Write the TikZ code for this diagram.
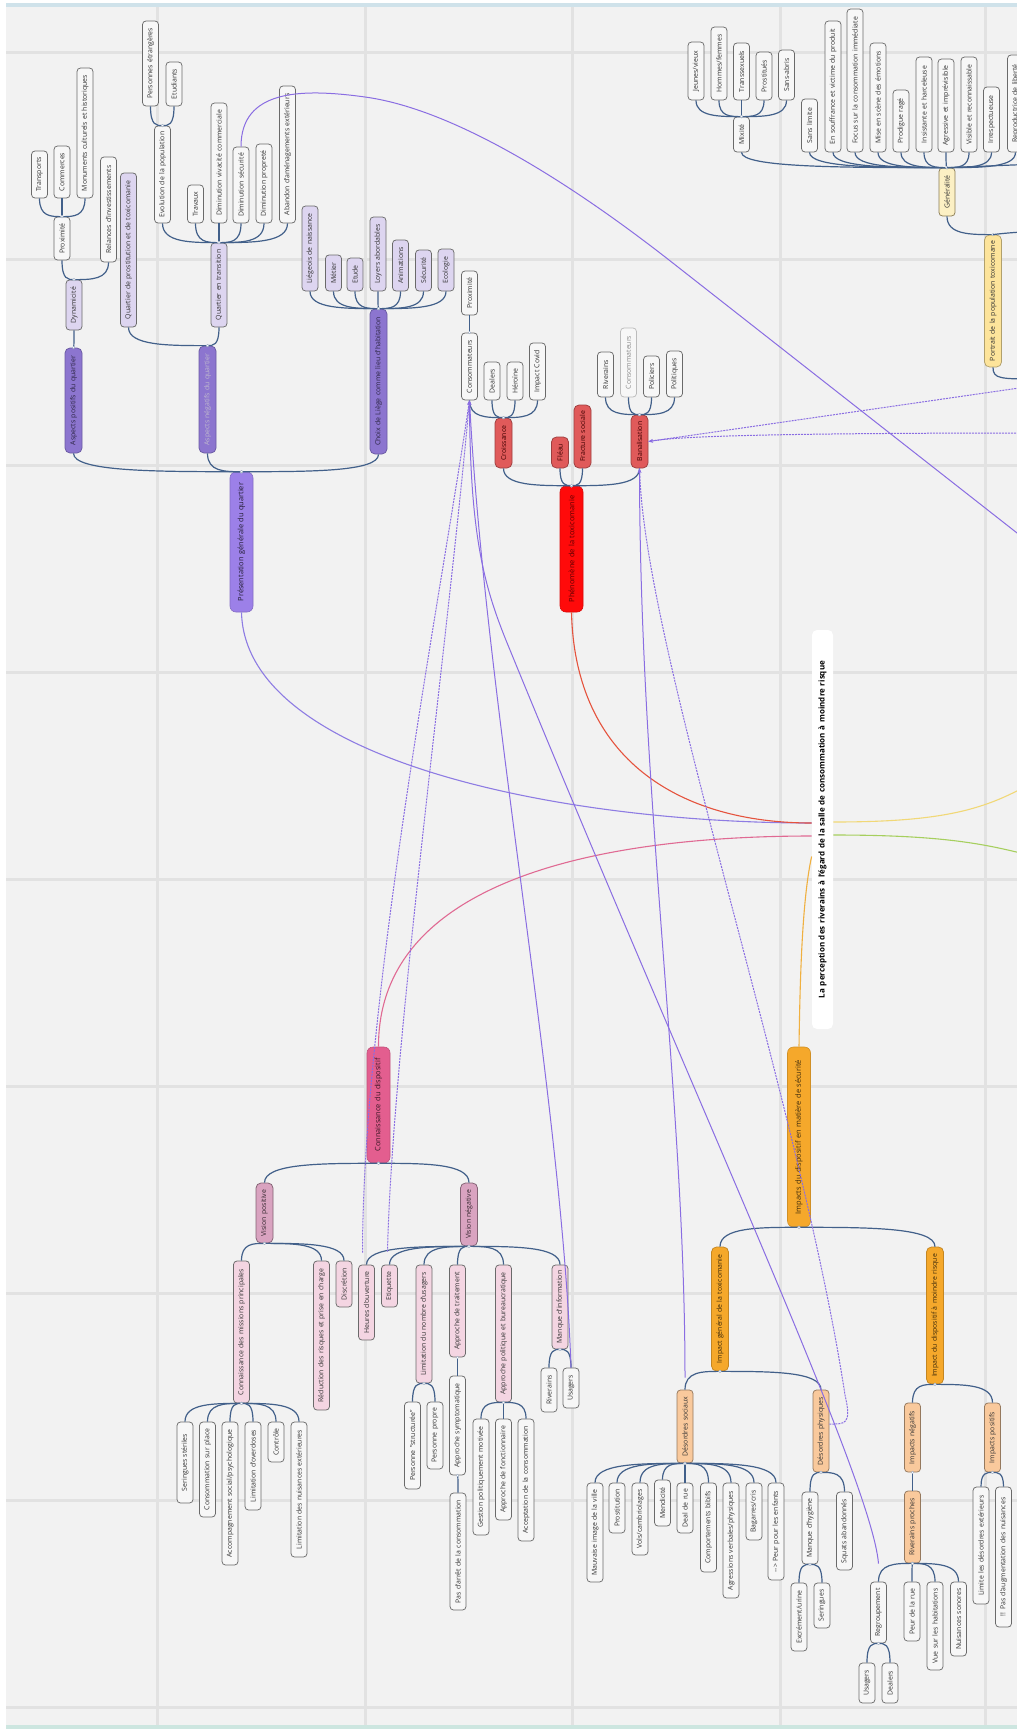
\documentclass[tikz,border=0pt]{standalone}
\usepackage{graphicx}
\usepackage{fontspec}
\setmainfont{Open Sans}
\usetikzlibrary{calc,arrows.meta}
\definecolor{bg}{HTML}{F2F2F2}
\definecolor{gridc}{HTML}{E2E2E2}
\definecolor{topc}{HTML}{CFE2EA}
\definecolor{botc}{HTML}{CDE6E0}
\definecolor{busc}{HTML}{42608A}
\definecolor{xlc}{HTML}{8A6DE2}
\definecolor{leafw}{HTML}{F7F7F7}
\definecolor{leafd}{HTML}{6A6A6A}
\definecolor{purA}{HTML}{9C80E8}
\definecolor{purB}{HTML}{8C75CF}
\definecolor{purBd}{HTML}{6A5AA3}
\definecolor{purL}{HTML}{DDD5F0}
\definecolor{redA}{HTML}{FF0A0A}
\definecolor{redB}{HTML}{E05A5A}
\definecolor{pinkA}{HTML}{E35E8F}
\definecolor{pinkB}{HTML}{D9A3C0}
\definecolor{pinkL}{HTML}{F4D5E2}
\definecolor{orA}{HTML}{F5A82B}
\definecolor{orL}{HTML}{F9C99C}
\definecolor{yeA}{HTML}{FDE49B}
\definecolor{yeL}{HTML}{FCF0C4}
\definecolor{purC}{HTML}{8E7CE3}
\definecolor{redC}{HTML}{E5533D}
\definecolor{pinkC}{HTML}{E06A93}
\definecolor{orC}{HTML}{F0B040}
\definecolor{yelC}{HTML}{F1D877}
\definecolor{grnC}{HTML}{A6CF5E}
\newcommand\mmnode[6]{%
  \pgfmathsetmacro\mmh{#5-#4}%
  \pgfmathsetmacro\mmy{(#4+#5)/2}%
  \node[#2,minimum height=\mmh pt] (#1) at (#3,\mmy) {\rotatebox{90}{\spaceskip=0.34em\relax #6}};}
\newcommand\mmup[2]{\draw[bus] (#2.south) .. controls (#2.south |- #1.north) and ($(#2.south |- #1.north)!0.5!(#1.north)$) .. (#1.north);
  \fill[white,draw=busc!50] (#1.north) circle (1.3pt);}
\newcommand\mmdn[2]{\draw[bus] (#1.south) .. controls ($(#1.south)!0.5!(#1.south -| #2.north)$) and (#1.south -| #2.north) .. (#2.north);
  \fill[white,draw=busc!50] (#1.south) circle (1.3pt);}
\tikzset{
  box/.style={draw, rounded corners=3.5pt, inner sep=1pt, minimum width=16pt, line width=0.75pt,
    font=\fontsize{6.9}{7.5}\selectfont, text=black!80},
  wl/.style={box, fill=leafw, draw=leafd},
  pl/.style={box, fill=purL, draw=leafd},
  kl/.style={box, fill=pinkL, draw=leafd},
  ol/.style={box, fill=orL, draw=orL!60!black},
  lone/.style={box, minimum width=23pt, rounded corners=6pt, font=\fontsize{7.4}{8}\selectfont, line width=0.6pt},
  ltwop/.style={box, minimum width=17pt, fill=purB, draw=purBd, text=purBd!40!black, rounded corners=5pt},
  ltwor/.style={box, minimum width=17pt, fill=redB, draw=redB!70!black, text=red!25!black, rounded corners=5pt},
  ltwok/.style={box, minimum width=17pt, fill=pinkB, draw=pinkB!60!black, text=pinkB!25!black, rounded corners=5pt},
  ltwoo/.style={box, minimum width=17pt, fill=orA, draw=orA!80!black, text=orA!25!black, rounded corners=5pt},
  ltwoy/.style={box, minimum width=17pt, fill=yeA, draw=yeA!70!black, rounded corners=5pt},
  bus/.style={draw=busc, line width=1.2pt},
  xl/.style={draw=xlc, line width=1pt},
  xld/.style={draw=xlc, line width=1pt, dash pattern=on 2pt off 1pt},
  tipx/.style={-{Stealth[length=4.5pt,width=3.5pt]}}
}
\begin{document}
\begin{tikzpicture}[x=1pt,y=-1pt]
\useasboundingbox (0,0) rectangle (1017,1729);
\clip (0,0) rectangle (1017,1729);
\fill[white] (0,0) rectangle (1017,1729);
\fill[bg] (6,7) rectangle (1017,1725);
\fill[topc] (6,3) rectangle (1017,7);
\fill[botc] (6,1725) rectangle (1017,1729);
\foreach \x in {157,365,572,780,985} \draw[gridc,line width=3pt] (\x,7) -- (\x,1725);
\foreach \y in {52,259,465,672,879,1086,1293,1500,1707} \draw[gridc,line width=3pt] (6,\y) -- (1017,\y);

% ---------- purple cluster
\mmnode{pres}{lone,fill=purA,draw=purA!85!black,text=purBd!30!black}{241.5}{472}{612}{Présentation générale du quartier}
\mmnode{apos}{ltwop}{73.5}{348}{453}{Aspects positifs du quartier}
\mmnode{aneg}{ltwop,text=purL!70!gray}{207.5}{346}{453}{Aspects négatifs du quartier}
\mmnode{choix}{ltwop}{378.5}{309}{454}{Choix de Liège comme lieu d'habitation}
\mmnode{dyn}{pl}{74}{280}{330}{Dynamicité}
\mmnode{prox}{wl}{62}{217}{260}{Proximité}
\mmnode{relan}{wl}{108.5}{157}{262}{Relances d'investissements}
\mmnode{transp}{wl}{39.5}{151}{198}{Transports}
\mmnode{comm}{wl}{62}{146}{198}{Commerces}
\mmnode{monu}{wl}{85}{68}{198}{Monuments culturels et historiques}
\mmnode{qprost}{pl}{128.5}{173}{327}{Quartier de prostitution et de toxicomanie}
\mmnode{qtrans}{pl}{219}{243}{327}{Quartier en transition}
\mmnode{evol}{wl}{162.5}{126}{223}{Evolution de la population}
\mmnode{trav}{wl}{195.5}{185}{223}{Travaux}
\mmnode{dviv}{wl}{219}{103}{223}{Diminution vivacité commerciale}
\mmnode{dsec}{wl}{241}{147}{223}{Diminution sécurité}
\mmnode{dprop}{wl}{264}{144}{223}{Diminution propreté}
\mmnode{aband}{wl}{287.5}{86}{223}{Abandon d'aménagements extérieurs}
\mmnode{pers}{wl}{150.5}{21}{106}{Personnes étrangères}
\mmnode{etud}{wl}{174}{62}{106}{Etudiants}
\mmnode{liege}{pl}{310}{206}{291}{Liégeois de naissance}
\mmnode{metier}{pl}{333.5}{255}{291}{Métier}
\mmnode{etude}{pl}{355}{258}{291}{Etude}
\mmnode{loyer}{pl}{378}{217}{291}{Loyers abordables}
\mmnode{anim}{pl}{400.5}{240}{291}{Animations}
\mmnode{secu}{pl}{423.5}{250}{291}{Sécurité}
\mmnode{ecol}{pl}{446}{249}{291}{Ecologie}

% ---------- red cluster
\mmnode{pheno}{lone,fill=redA,draw=redA!85!black,text=red!35!black}{571.5}{486}{612}{Phénomène de la toxicomanie}
\mmnode{crois}{ltwor}{503.5}{418}{468}{Croissance}
\mmnode{fleau}{ltwor}{560}{437}{468}{Fléau}
\mmnode{fract}{ltwor}{582.5}{405}{468}{Fracture sociale}
\mmnode{banal}{ltwor}{639.5}{415}{468}{Banalisation}
\mmnode{conso}{wl}{469.5}{333}{400}{Consommateurs}
\mmnode{deal}{wl}{492}{362}{400}{Dealers}
\mmnode{hero}{wl}{515}{362}{400}{Héroïne}
\mmnode{covid}{wl}{537.5}{343}{400}{Impact Covid}
\mmnode{proxb}{wl}{469.5}{271}{315}{Proximité}
\mmnode{riv}{wl}{605.5}{352}{397}{Riverains}
\mmnode{consob}{wl,draw=leafd!45,text=black!45}{628.5}{328}{397}{Consommateurs}
\mmnode{polic}{wl}{651.5}{356}{397}{Policiers}
\mmnode{polit}{wl}{674.5}{351}{397}{Politiques}

% ---------- yellow cluster
\mmnode{portr}{ltwoy}{993}{235}{367}{Portrait de la population toxicomane}
\mmnode{gener}{box,fill=yeL,draw=yeA!55!black}{947}{168}{216}{Généralité}
\mmnode{mixi}{wl}{741.5}{117}{152}{Mixité}
\mmnode{jeun}{wl}{696}{42}{100}{Jeunes/vieux}
\mmnode{homm}{wl}{719}{27}{100}{Hommes/femmes}
\mmnode{trans}{wl}{741.5}{43}{100}{Transsexuels}
\mmnode{prostit}{wl}{764}{52}{100}{Prostitués}
\mmnode{sabri}{wl}{786.5}{50}{100}{Sans-abris}
\mmnode{slim}{wl}{809.5}{99}{152}{Sans limite}
\mmnode{souf}{wl}{833}{21}{152}{En souffrance et victime du produit}
\mmnode{focus}{wl}{855}{9}{152}{Focus sur la consommation immédiate}
\mmnode{mise}{wl}{878}{43}{152}{Mise en scène des émotions}
\mmnode{prod}{wl}{901}{90}{152}{Prodigue ragé}
\mmnode{insis}{wl}{924}{57}{152}{Insistante et harceleuse}
\mmnode{agres}{wl}{946}{59}{152}{Agressive et imprévisible}
\mmnode{visib}{wl}{969}{57}{152}{Visible et reconnaissable}
\mmnode{irres}{wl}{991.5}{87}{152}{Irrespectueuse}
\mmnode{repro}{wl}{1015.5}{55}{152}{Reproductrice de liberté}

% ---------- central
\mmnode{central}{box,fill=white,draw=none,rounded corners=5pt,minimum width=21pt,font=\bfseries\fontsize{8}{9}\selectfont,text=black}{822.5}{630}{1029}{La perception des riverains à l'égard de la salle de consommation à moindre risque}

% ---------- pink cluster
\mmnode{conn}{lone,fill=pinkA,draw=pinkA!85!black,text=pinkA!25!black}{378.5}{1047}{1163}{Connaissance du dispositif}
\mmnode{vpos}{ltwok}{264.5}{1183}{1243}{Vision positive}
\mmnode{vneg}{ltwok}{469}{1183}{1246}{Vision négative}
\mmnode{miss}{kl}{241.5}{1261}{1403}{Connaissance des missions principales}
\mmnode{redu}{kl}{321.5}{1261}{1410}{Réduction des risques et prise en charge}
\mmnode{discr}{kl}{344}{1261}{1307}{Discrétion}
\mmnode{serst}{wl}{185}{1422}{1503}{Seringues stériles}
\mmnode{cplace}{wl}{207.5}{1422}{1517}{Consommation sur place}
\mmnode{accomp}{wl}{230}{1422}{1565}{Accompagnement social/psychologique}
\mmnode{limov}{wl}{253}{1422}{1510}{Limitation d'overdoses}
\mmnode{contr}{wl}{276}{1422}{1462}{Contrôle}
\mmnode{limnu}{wl}{299}{1422}{1557}{Limitation des nuisances extérieures}
\mmnode{heures}{kl}{366.5}{1265}{1340}{Heures d'ouverture}
\mmnode{etiq}{kl}{389.5}{1265}{1307}{Etiquette}
\mmnode{limnb}{kl}{424}{1265}{1383}{Limitation du nombre d'usagers}
\mmnode{apptr}{kl}{457.5}{1265}{1357}{Approche de traitement}
\mmnode{apppol}{kl}{503.5}{1265}{1402}{Approche politique et bureaucratique}
\mmnode{manq}{kl}{560}{1265}{1349}{Manque d'information}
\mmnode{pstruc}{wl}{412.5}{1402}{1489}{Personne "structurée"}
\mmnode{ppropre}{wl}{435}{1402}{1469}{Personne propre}
\mmnode{asympt}{wl}{457.5}{1376}{1475}{Approche symptomatique}
\mmnode{parret}{wl}{458}{1493}{1610}{Pas d'arrêt de la consommation}
\mmnode{gestion}{wl}{481}{1419}{1535}{Gestion politiquement motivée}
\mmnode{afonct}{wl}{503.5}{1419}{1520}{Approche de fonctionnaire}
\mmnode{accept}{wl}{526}{1419}{1541}{Acceptation de la consommation}
\mmnode{rivm}{wl}{549}{1368}{1412}{Riverains}
\mmnode{usagm}{wl}{571}{1368}{1408}{Usagers}

% ---------- orange cluster
\mmnode{impacts}{lone,fill=orA,draw=orA!85!black,text=orA!25!black}{799}{1047}{1227}{Impacts du dispositif en matière de sécurité}
\mmnode{igen}{ltwoo}{720}{1247}{1371}{Impact général de la toxicomanie}
\mmnode{idisp}{ltwoo}{935}{1247}{1384}{Impact du dispositif à moindre risque}
\mmnode{dsoc}{ol}{685}{1390}{1463}{Désordres sociaux}
\mmnode{dphys}{ol}{821}{1390}{1472}{Désordres physiques}
\mmnode{mauv}{wl}{595}{1483}{1582}{Mauvaise image de la ville}
\mmnode{prostn}{wl}{617}{1483}{1533}{Prostitution}
\mmnode{vols}{wl}{640}{1483}{1555}{Vols/cambriolages}
\mmnode{mend}{wl}{662.5}{1480}{1526}{Mendicité}
\mmnode{dealr}{wl}{685}{1483}{1533}{Deal de rue}
\mmnode{compb}{wl}{708.5}{1483}{1572}{Comportements bibifs}
\mmnode{agrv}{wl}{731}{1483}{1598}{Agressions verbales/physiques}
\mmnode{bagar}{wl}{754}{1483}{1540}{Bagarres/cris}
\mmnode{peurenf}{wl}{776}{1483}{1580}{-{}-> Peur pour les enfants}
\mmnode{hyg}{wl}{810}{1492}{1564}{Manque d'hygiène}
\mmnode{squat}{wl}{844.5}{1492}{1570}{Squats abandonnés}
\mmnode{excr}{wl}{799}{1583}{1651}{Excrément/urine}
\mmnode{sering}{wl}{822}{1583}{1628}{Seringues}
\mmnode{ineg}{ol}{912.5}{1403}{1472}{Impacts négatifs}
\mmnode{ipos}{ol}{992.5}{1403}{1472}{Impacts positifs}
\mmnode{rivpr}{ol}{912.5}{1491}{1563}{Riverains proches}
\mmnode{regr}{wl}{878.5}{1582}{1643}{Regroupement}
\mmnode{peurrue}{wl}{912}{1582}{1641}{Peur de la rue}
\mmnode{vue}{wl}{935}{1582}{1670}{Vue sur les habitations}
\mmnode{nuis}{wl}{958.5}{1582}{1656}{Nuisances sonores}
\mmnode{usagr}{wl}{867}{1663}{1703}{Usagers}
\mmnode{dealb}{wl}{890}{1663}{1703}{Dealers}
\mmnode{limdes}{wl}{981}{1487}{1604}{Limite les désordres extérieurs}
\mmnode{pasaug}{wl}{1003.5}{1487}{1627}{!! Pas d'augmentation des nuisances}

% ---------- tree connectors (upward)
\foreach \c in {apos,aneg,choix} {\mmup{pres}{\c}}
\mmup{apos}{dyn}
\foreach \c in {prox,relan} {\mmup{dyn}{\c}}
\foreach \c in {transp,comm,monu} {\mmup{prox}{\c}}
\foreach \c in {qprost,qtrans} {\mmup{aneg}{\c}}
\foreach \c in {evol,trav,dviv,dsec,dprop,aband} {\mmup{qtrans}{\c}}
\foreach \c in {pers,etud} {\mmup{evol}{\c}}
\foreach \c in {liege,metier,etude,loyer,anim,secu,ecol} {\mmup{choix}{\c}}
\foreach \c in {crois,fleau,fract,banal} {\mmup{pheno}{\c}}
\foreach \c in {conso,deal,hero,covid} {\mmup{crois}{\c}}
\mmup{conso}{proxb}
\foreach \c in {riv,consob,polic,polit} {\mmup{banal}{\c}}
\mmup{portr}{gener}
\foreach \c in {mixi,slim,souf,focus,mise,prod,insis,agres,visib,irres,repro} {\mmup{gener}{\c}}
\foreach \c in {jeun,homm,trans,prostit,sabri} {\mmup{mixi}{\c}}
\coordinate (offg) at (1040,164);
\coordinate (offp) at (1040,231);
\coordinate (offq) at (1040,379);
\draw[bus] (gener.north) .. controls (990,166) and (1010,165) .. (offg);
\draw[bus] (portr.north) .. controls (1005,233) and (1020,232) .. (offp);
\draw[bus] (portr.south) .. controls (993,379) and (1000,379) .. (offq);

% ---------- tree connectors (downward)
\foreach \c in {vpos,vneg} {\mmdn{conn}{\c}}
\foreach \c in {miss,redu,discr} {\mmdn{vpos}{\c}}
\foreach \c in {serst,cplace,accomp,limov,contr,limnu} {\mmdn{miss}{\c}}
\foreach \c in {heures,etiq,limnb,apptr,apppol,manq} {\mmdn{vneg}{\c}}
\foreach \c in {pstruc,ppropre} {\mmdn{limnb}{\c}}
\mmdn{apptr}{asympt}
\mmdn{asympt}{parret}
\foreach \c in {gestion,afonct,accept} {\mmdn{apppol}{\c}}
\foreach \c in {rivm,usagm} {\mmdn{manq}{\c}}
\foreach \c in {igen,idisp} {\mmdn{impacts}{\c}}
\foreach \c in {dsoc,dphys} {\mmdn{igen}{\c}}
\foreach \c in {mauv,prostn,vols,mend,dealr,compb,agrv,bagar,peurenf} {\mmdn{dsoc}{\c}}
\foreach \c in {hyg,squat} {\mmdn{dphys}{\c}}
\foreach \c in {excr,sering} {\mmdn{hyg}{\c}}
\foreach \c in {ineg,ipos} {\mmdn{idisp}{\c}}
\mmdn{ineg}{rivpr}
\foreach \c in {regr,peurrue,vue,nuis} {\mmdn{rivpr}{\c}}
\foreach \c in {usagr,dealb} {\mmdn{regr}{\c}}
\foreach \c in {limdes,pasaug} {\mmdn{ipos}{\c}}

% ---------- main branches from the central node
\draw[purC,line width=1.1pt] (pres.south) .. controls (245,760) and (560,823) .. ([yshift=6.5pt]central.west);
\draw[redC,line width=1.1pt] (pheno.south) .. controls (575,760) and (680,823) .. ([yshift=6.5pt]central.west);
\draw[pinkC,line width=1.1pt] (conn.north) .. controls (378,880) and (600,836) .. ([yshift=-6.5pt]central.west);
\draw[orC,line width=1.1pt] ([yshift=-27pt]central.west) .. controls (802,900) and (800,980) .. (impacts.north);
\coordinate (offy) at (1040,778);
\coordinate (offgr) at (1040,858);
\draw[yelC,line width=1.1pt] ([yshift=7.5pt]central.east) .. controls (950,822) and (990,808) .. (offy);
\draw[grnC,line width=1.1pt] ([yshift=-5.5pt]central.east) .. controls (950,835) and (990,845) .. (offgr);

% ---------- cross links
\coordinate (offs) at (1040,551);
\coordinate (offb1) at (1040,433);
\coordinate (offb2) at (1040,385);
\draw[xl] (dsec.north) .. controls (241,90) and (300,88) .. (365,97) .. controls (460,110) and (582,192) .. (669,260) -- (offs);
\draw[xld,tipx] ([xshift=-4pt,yshift=12pt]heures.north) .. controls (363,1000) and (440,600) .. (conso.south);
\draw[xld,tipx] ([xshift=-2pt,yshift=13pt]etiq.north) .. controls (392,1050) and (447,650) .. (conso.south);
\draw[xl,tipx] (usagm.north) .. controls (562,1100) and (485,700) .. (conso.south);
\draw[xl,tipx] ([yshift=18pt]regr.north) .. controls (872,1480) and (690,1090) .. (510,650) .. controls (485,590) and (470,540) .. (conso.south);
\draw[xl,tipx] ([yshift=12pt]dsoc.north) .. controls (685,1100) and (640,800) .. (banal.south);
\draw[xld,tipx] ([yshift=7pt]dphys.east) .. controls (845,1424) and (852,1425) .. (845,1395) .. controls (800,1100) and (645,650) .. (banal.south);
\draw[xld,tipx] (offb1) .. controls (720,433) and (670,438) .. (banal.east);
\draw[xld,tipx] (offb2) -- (banal.east);
\end{tikzpicture}
\end{document}
